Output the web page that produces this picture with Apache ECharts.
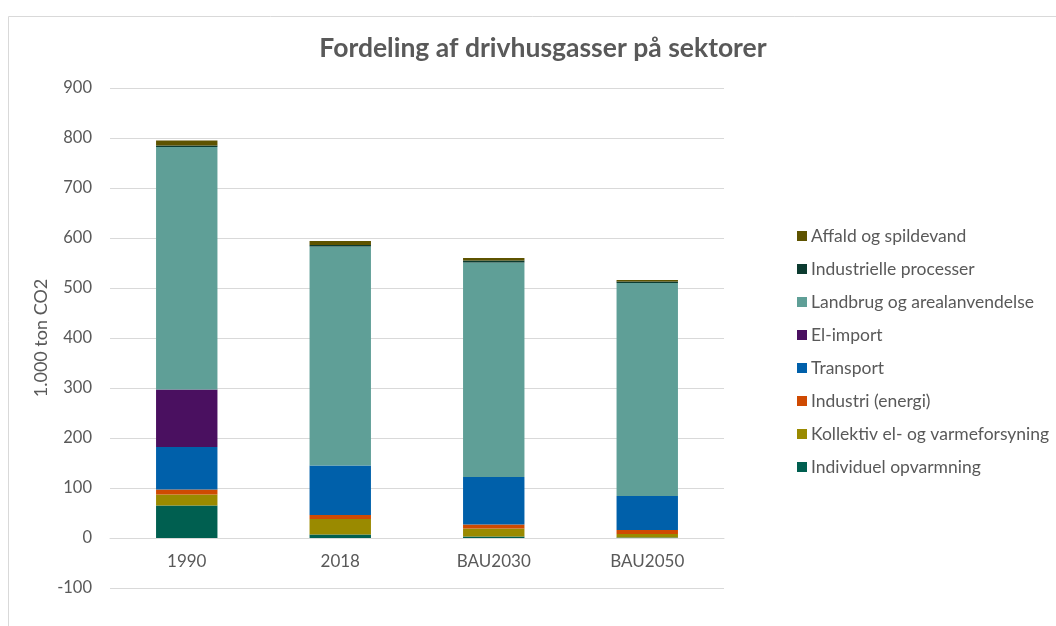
<!DOCTYPE html>
<html>
<head>
<meta charset="utf-8">
<script src="https://cdn.jsdelivr.net/npm/echarts@6/dist/echarts.min.js"></script>
<style>
html,body{margin:0;padding:0;background:#fff;}
#chart{width:1056px;height:626px;}
</style>
</head>
<body>
<div id="chart"></div>
<script>
var categories = ['1990', '2018', 'BAU2030', 'BAU2050'];
var individuel = [65, 7, 3, 1];
var kollektiv = [22, 31, 16, 7];
var industriEnergi = [10, 8, 8, 8];
var transport = [85, 99, 95, 68];
var elImport = [115, 0, 0, 0];
var landbrug = [485, 438, 429, 426];
var industrielle = [3, 3, 4, 3];
var affald = [10, 8, 5, 3];

var seriesNames = ['Individuel opvarmning', 'Kollektiv el- og varmeforsyning', 'Industri (energi)', 'Transport', 'El-import', 'Landbrug og arealanvendelse', 'Industrielle processer', 'Affald og spildevand'];
var seriesData = [individuel, kollektiv, industriEnergi, transport, elImport, landbrug, industrielle, affald];
var colors = ['#005f50', '#9a8a00', '#cf4a02', '#0060aa', '#4a1060', '#5f9f97', '#0c3b30', '#5e5300'];

var font = 'Lato, "Open Sans", sans-serif';
var chart = echarts.init(document.getElementById('chart'), null, {renderer: 'canvas'});
var series = seriesNames.map(function (n, i) {
  return {
    name: n,
    type: 'bar',
    stack: 'total',
    barWidth: '40%',
    data: seriesData[i],
    itemStyle: {color: colors[i]}
  };
});
chart.setOption({
  animation: false,
  backgroundColor: '#fff',
  color: colors,
  title: {
    text: 'Fordeling af drivhusgasser på sektorer',
    left: 538,
    textAlign: 'center',
    top: 30,
    textStyle: {fontFamily: font, fontSize: 26.5, fontWeight: 'bold', color: '#595959'}
  },
  graphic: [{
    type: 'rect',
    shape: {x: 8.5, y: 16.5, width: 1100, height: 700},
    style: {fill: 'none', stroke: '#d9d9d9', lineWidth: 1},
    silent: true
  }],
  legend: {
    orient: 'vertical',
    left: 792,
    top: 222,
    itemWidth: 10,
    itemHeight: 10,
    itemGap: 15,
    icon: 'rect',
    data: seriesNames.slice().reverse(),
    textStyle: {fontFamily: font, fontSize: 17.5, color: '#595959', padding: [0, 0, 0, -1]}
  },
  grid: {left: 110, right: 332, top: 88, bottom: 38},
  xAxis: {
    type: 'category',
    data: categories,
    offset: -50,
    axisLine: {onZero: false, lineStyle: {color: '#d9d9d9', width: 1}},
    axisTick: {show: false},
    axisLabel: {fontFamily: font, fontSize: 17, color: '#595959', margin: 15}
  },
  yAxis: {
    type: 'value',
    min: -100,
    max: 900,
    interval: 100,
    name: '1.000 ton CO2',
    nameLocation: 'middle',
    nameGap: 60,
    nameMoveOverlap: false,
    nameRotate: 90,
    nameTextStyle: {fontFamily: font, fontSize: 18, color: '#595959'},
    axisLine: {show: false},
    axisTick: {show: false},
    axisLabel: {fontFamily: font, fontSize: 16.5, color: '#595959', margin: 18},
    splitLine: {lineStyle: {color: '#d9d9d9', width: 1}}
  },
  series: series
});
</script>
</body>
</html>
